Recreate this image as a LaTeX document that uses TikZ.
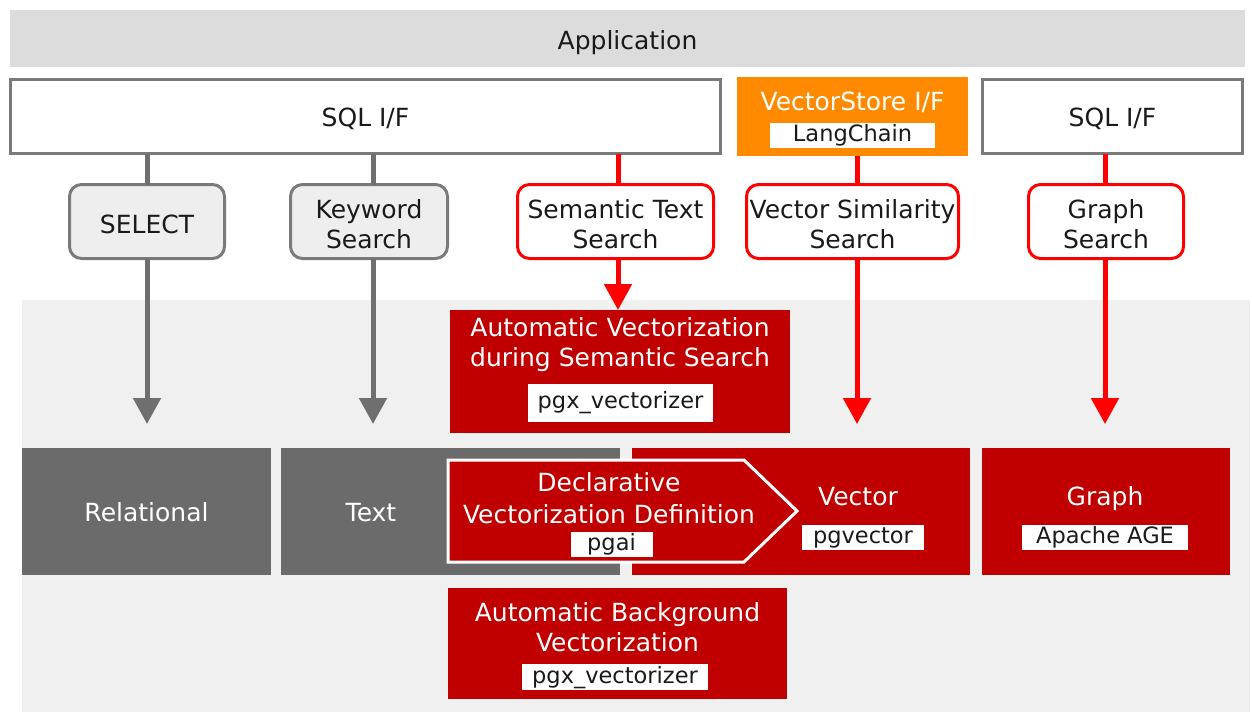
\documentclass[tikz,border=0pt]{standalone}
\usepackage{fontspec}
\setmainfont{DejaVu Sans}
\usetikzlibrary{arrows.meta}
\definecolor{dred}{HTML}{C00000}
\definecolor{bred}{HTML}{FF0000}
\definecolor{orng}{HTML}{FF8A00}
\definecolor{dgray}{HTML}{6B6B6B}
\definecolor{lgray}{HTML}{EEEEEE}
\definecolor{bgray}{HTML}{7A7A7A}
\definecolor{bggray}{HTML}{F0F0F0}
\definecolor{appgray}{HTML}{DCDCDC}
\definecolor{txt}{HTML}{1A1A1A}
\definecolor{agray}{HTML}{6F6F6F}
\begin{document}
\begin{tikzpicture}[x=1pt,y=-1pt,
  font=\fontsize{25}{30}\selectfont,
  every node/.style={inner sep=0pt, outer sep=0pt},
  boxtext/.style={yshift=-2.5pt, align=center, text=txt, inner sep=0pt},
  ifbox/.style={draw=bgray, line width=3pt, fill=white, minimum height=74pt},
  grayq/.style={draw=bgray, line width=3pt, fill=lgray, rounded corners=12pt, minimum height=74pt},
  redq/.style={draw=bred, line width=3pt, fill=white, rounded corners=12pt, minimum height=74pt},
  redbox/.style={fill=dred},
  graybox/.style={fill=dgray, minimum height=127pt},
  wlabel/.style={text=white, align=center},
  tag/.style={fill=white, text=txt, font=\fontsize{22.5}{26}\selectfont, text height=17pt, text depth=5pt},
  gline/.style={draw=agray, line width=5pt},
  rline/.style={draw=bred, line width=5pt},
  garrow/.style={gline, -{Triangle[width=27pt,length=26pt]}},
  rarrow/.style={rline, -{Triangle[width=27pt,length=26pt]}},
]
\useasboundingbox (0,0) rectangle (1252,713);
\fill[white] (0,0) rectangle (1252,713);
% backgrounds
\fill[bggray] (22,300) rectangle (1250,712);
\node[fill=appgray, minimum width=1235pt, minimum height=57pt,
  label={[boxtext, yshift=-1.5pt]center:Application}] (app) at (627.5,38.5) {};

% interface boxes
\node[ifbox, minimum width=710pt, label={[boxtext]center:SQL I/F}] (sql1) at (365.5,116.5) {};
\node[fill=orng, minimum width=231pt, minimum height=79pt] (vs) at (852.5,116.5) {};
\node[wlabel, text height=18pt, text depth=5pt] (vslabel) at (852.5,104) {VectorStore I/F};
\node[tag, minimum width=165pt, minimum height=25pt] (lc) at (852.5,135.5) {LangChain};
\node[ifbox, minimum width=260pt, label={[boxtext]center:SQL I/F}] (sql2) at (1112.5,116.5) {};

% query boxes
\node[grayq, minimum width=155pt, label={[boxtext]center:SELECT}] (sel) at (147,221.5) {};
\node[grayq, minimum width=157pt, label={[boxtext]center:Keyword\\Search}] (kw) at (369,221.5) {};
\node[redq, minimum width=196pt, label={[boxtext]center:Semantic Text\\Search}] (sem) at (615.5,221.5) {};
\node[redq, minimum width=212pt, label={[boxtext]center:Vector Similarity\\Search}] (vsim) at (852.5,221.5) {};
\node[redq, minimum width=155pt, label={[boxtext]center:Graph\\Search}] (gs) at (1106,221.5) {};

% automatic vectorization during semantic search
\node[redbox, minimum width=340pt, minimum height=123pt] (av) at (620,371.5) {};
\node[wlabel] (avlabel) at (620,344.5) {Automatic Vectorization\\during Semantic Search};
\node[tag, minimum width=185pt, minimum height=38pt] (pgx1) at (620.5,402.5) {pgx\_vectorizer};

% storage boxes
\node[graybox, minimum width=249pt] (rel) at (146.5,511.5) {};
\node[wlabel, text height=18pt, text depth=5pt] (rellabel) at (146.5,515) {Relational};
\node[graybox, minimum width=339pt] (textb) at (450.5,511.5) {};
\node[wlabel, text height=18pt, text depth=5pt] (textlabel) at (371,515) {Text};
\node[redbox, minimum width=338pt, minimum height=127pt] (vec) at (801,511.5) {};
\node[wlabel, text height=18pt, text depth=5pt] (veclabel) at (858,499) {Vector};
\node[tag, minimum width=122pt, minimum height=25pt] (pgv) at (863,537) {pgvector};
\node[redbox, minimum width=248pt, minimum height=127pt] (gr) at (1106,511.5) {};
\node[wlabel, text height=18pt, text depth=5pt] (grlabel) at (1105,499) {Graph};
\node[tag, minimum width=166pt, minimum height=25pt] (age) at (1105,537) {Apache AGE};

% declarative vectorization definition (pentagon)
\filldraw[fill=dred, draw=white, line width=3pt, line join=miter]
  (448,460) -- (744,460) -- (797,511) -- (744,562) -- (448,562) -- cycle;
\node[wlabel, font=\fontsize{25}{32}\selectfont] (decl) at (609,498) {Declarative\\Vectorization Definition};
\node[tag, minimum width=82pt, minimum height=25pt] (pgai) at (611.5,544.5) {pgai};

% automatic background vectorization
\node[redbox, minimum width=339pt, minimum height=111pt] (ab) at (617.5,643.5) {};
\node[wlabel] (ablabel) at (617.5,627) {Automatic Background\\Vectorization};
\node[tag, minimum width=186pt, minimum height=26pt] (pgx2) at (615,677) {pgx\_vectorizer};

% arrow end points
\coordinate (t1) at (147,424);
\coordinate (t2) at (373,424);
\coordinate (t3) at (618,310);
\coordinate (t4) at (857,424);
\coordinate (t5) at (1105,424);

% connectors
\draw[gline] (sql1.south -| t1) -- (sel.north -| t1);
\draw[garrow] (sel.south -| t1) -- (t1);
\draw[gline] (sql1.south -| t2) -- (kw.north -| t2);
\draw[garrow] (kw.south -| t2) -- (t2);
\draw[rline] (sql1.south -| t3) -- (sem.north -| t3);
\draw[rarrow] (sem.south -| t3) -- (av.north -| t3);
\draw[rline] (vs.south -| t4) -- (vsim.north -| t4);
\draw[rarrow] (vsim.south -| t4) -- (t4);
\draw[rline] (sql2.south -| t5) -- (gs.north -| t5);
\draw[rarrow] (gs.south -| t5) -- (t5);
\end{tikzpicture}
\end{document}
